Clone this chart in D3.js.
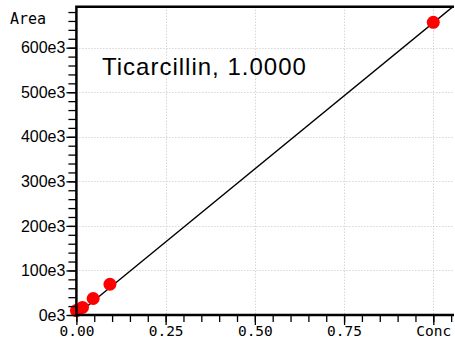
<!DOCTYPE html>
<html>
<head>
<meta charset="utf-8">
<script src="https://cdn.jsdelivr.net/npm/d3@7"></script>
<style>
  body { margin: 0; background: #fff; }
  svg { display: block; }
</style>
</head>
<body>
<svg id="chart" width="455" height="337"></svg>
<script>
// calibration data
var conc = [0.0, 0.017, 0.047, 0.094, 1.0];
var area = [10e3, 17e3, 37e3, 69e3, 657e3];
var fit = [656e3, 0]; // slope, intercept
var xTicks = [0, 0.25, 0.5, 0.75, 1.0];
var xTickLabels = ['0.00', '0.25', '0.50', '0.75', 'Conc'];
var yTicks = [0, 100e3, 200e3, 300e3, 400e3, 500e3, 600e3];
var yTickLabels = ['0e3', '100e3', '200e3', '300e3', '400e3', '500e3', '600e3'];
var title = 'Ticarcillin, 1.0000';

var svg = d3.select('#chart');
// plot box (don't call it "top", window.top is read-only)
var pLeft = 76.4, pRight = 454, pTop = 6.7, pBottom = 315;

var x = d3.scaleLinear().domain([0, 1.058]).range([pLeft, pRight]);
var y = d3.scaleLinear().domain([0, 692e3]).range([pBottom, pTop]);

// dotted grid
var grid = svg.append('g')
  .attr('stroke', '#c4c4c4')
  .attr('stroke-width', 1)
  .attr('stroke-dasharray', '1,2');
grid.selectAll('.gx').data(xTicks.slice(1)).enter().append('line')
  .attr('x1', function(d) { return Math.round(x(d)) + 0.5; })
  .attr('x2', function(d) { return Math.round(x(d)) + 0.5; })
  .attr('y1', pTop).attr('y2', pBottom);
grid.selectAll('.gy').data(yTicks.slice(1)).enter().append('line')
  .attr('y1', function(d) { return Math.round(y(d)) + 0.5; })
  .attr('y2', function(d) { return Math.round(y(d)) + 0.5; })
  .attr('x1', pLeft).attr('x2', pRight);

// regression line, clipped to the plot
svg.append('clipPath').attr('id', 'plot')
  .append('rect')
  .attr('x', pLeft).attr('y', pTop)
  .attr('width', pRight - pLeft).attr('height', pBottom - pTop);

var lx = x.domain();
svg.append('line')
  .attr('clip-path', 'url(#plot)')
  .attr('x1', x(lx[0])).attr('y1', y(fit[0] * lx[0] + fit[1]))
  .attr('x2', x(lx[1])).attr('y2', y(fit[0] * lx[1] + fit[1]))
  .attr('stroke', '#000')
  .attr('stroke-width', 1.4);

// points
svg.selectAll('.pt').data(conc).enter().append('circle')
  .attr('cx', function(d) { return x(d); })
  .attr('cy', function(d, i) { return y(area[i]); })
  .attr('r', 6.5)
  .attr('fill', '#ff0000');

// axes
var xMinor = d3.range(0, 1.06, 0.05);
var yMinor = d3.range(0, 692e3, 20e3);

var xAxis = d3.axisBottom(x).tickValues(xMinor).tickSize(7).tickFormat('');
svg.append('g').attr('transform', 'translate(0,' + pBottom + ')').call(xAxis)
  .call(function(g) { g.select('.domain').remove(); })
  .selectAll('line').attr('stroke-width', 1.3);
var xMajor = d3.axisBottom(x).tickValues(xTicks).tickSize(10)
  .tickFormat(function(d, i) { return xTickLabels[i]; });
svg.append('g').attr('transform', 'translate(0,' + pBottom + ')').call(xMajor)
  .call(function(g) { g.select('.domain').remove(); })
  .call(function(g) { g.selectAll('line').attr('stroke-width', 1.3); })
  .selectAll('text')
  .attr('font-family', 'DejaVu Sans Mono, monospace')
  .attr('font-size', 14.5)
  .attr('fill', '#000')
  .attr('dy', '0')
  .attr('y', 20.5);

var yAxis = d3.axisLeft(y).tickValues(yMinor).tickSize(8).tickFormat('');
svg.append('g').attr('transform', 'translate(' + pLeft + ',0)').call(yAxis)
  .call(function(g) { g.select('.domain').remove(); })
  .selectAll('line').attr('stroke-width', 1.3);
var yMajor = d3.axisLeft(y).tickValues(yTicks).tickSize(10).tickPadding(1)
  .tickFormat(function(d, i) { return yTickLabels[i]; });
svg.append('g').attr('transform', 'translate(' + pLeft + ',0)').call(yMajor)
  .call(function(g) { g.select('.domain').remove(); })
  .call(function(g) { g.selectAll('line').attr('stroke-width', 1.3); })
  .selectAll('text')
  .attr('font-family', 'Liberation Sans, Arial, sans-serif')
  .attr('font-size', 16)
  .attr('fill', '#000');

// frame: left, bottom, top
svg.append('path')
  .attr('d', 'M' + pRight + ',' + pTop + 'H' + pLeft + 'V' + pBottom + 'H' + pRight)
  .attr('fill', 'none')
  .attr('stroke', '#000')
  .attr('stroke-width', 2.5);

// labels
svg.append('text')
  .attr('x', 10).attr('y', 24)
  .attr('font-family', 'DejaVu Sans Mono, monospace')
  .attr('font-size', 15)
  .text('Area');

svg.append('text')
  .attr('x', 102).attr('y', 74.5)
  .attr('font-family', 'Liberation Sans, Arial, sans-serif')
  .attr('font-size', 24)
  .attr('letter-spacing', 1)
  .text(title);
</script>
</body>
</html>
